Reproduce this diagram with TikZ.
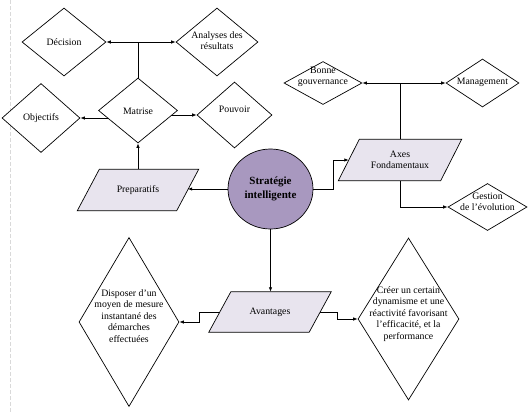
\documentclass[tikz,border=0pt]{standalone}
\usepackage{fontspec}
\setmainfont{Liberation Serif}
\usetikzlibrary{shapes.geometric,arrows.meta,backgrounds}
\pgfdeclarelayer{conn}
\pgfsetlayers{conn,background,main}
\definecolor{parafill}{HTML}{E8E4EE}
\definecolor{circfill}{HTML}{A898BF}
\newcommand\parashape[2]{%
  \draw[fill=parafill, line width=0.7pt] ([xshift=#2]#1.north west) -- ([xshift=#2]#1.north east) -- ([xshift=-#2]#1.south east) -- ([xshift=-#2]#1.south west) -- cycle;}
\begin{document}
\begin{tikzpicture}[x=1pt,y=-1pt,
 dia/.style={diamond, draw, fill=white, inner sep=0pt, line width=0.7pt},
 txt/.style={align=center, font=\fontsize{9.8}{11.5}\selectfont, inner sep=0pt},
 arr/.style={line width=0.8pt, -{Latex[length=4.5pt,width=3.5pt]}},
 ln/.style={line width=0.8pt},
 parbox/.style={minimum width=#1, minimum height=41, inner sep=0pt},
]
\useasboundingbox (0,0) rectangle (530,413);
\draw[gray!30, dash pattern=on 4pt off 2pt, line width=0.8pt] (10.5,0) -- (10.5,413);

% diamonds
\node[dia, minimum width=84, minimum height=68] (dec) at (64,42) {};
\node[txt] (dect) at (64,42) {Décision};
\node[dia, minimum width=82, minimum height=68] (ana) at (217,42) {};
\node[txt] (anat) at (217,40.5) {Analyses des\\résultats};
\node[dia, minimum width=79, minimum height=65] (mat) at (138,110.5) {};
\node[txt] (matt) at (138,111) {Matrise};
\node[dia, minimum width=78, minimum height=69] (obj) at (41,118) {};
\node[txt] (objt) at (41,118) {Objectifs};
\node[dia, minimum width=75, minimum height=66] (pou) at (234.5,115) {};
\node[txt] (pout) at (234.5,109) {Pouvoir};
\node[dia, minimum width=100, minimum height=169] (dis) at (129,322) {};
\node[txt] (dist) at (129,316) {Disposer d’un\\moyen de mesure\\instantané des\\démarches\\effectuées};
\node[dia, minimum width=101, minimum height=162] (cre) at (408.5,319) {};
\node[txt] (cret) at (408.5,314) {Créer un certain\\dynamisme et une\\réactivité favorisant\\l’efficacité, et la\\performance};
\node[dia, minimum width=78, minimum height=43] (bon) at (323,83) {};
\node[txt] (bont) at (323,77) {Bonne\\gouvernance};
\node[dia, minimum width=73, minimum height=48] (man) at (482.5,83) {};
\node[txt] (mant) at (482.5,82) {Management};
\node[dia, minimum width=79, minimum height=47] (ges) at (487.5,207) {};
\node[txt] (gest) at (487.5,202) {Gestion\\de l’évolution};

% parallelograms
\node[txt, parbox=99] (prep) at (138,190) {Preparatifs};
\node[txt, parbox=100, minimum height=40] (ava) at (270,312) {Avantages};
\node[txt, parbox=102] (axe) at (400,160) {Axes\\Fondamentaux};
\begin{pgfonlayer}{background}
\parashape{prep}{11}
\parashape{ava}{11}
\parashape{axe}{10.5}
\end{pgfonlayer}

% centre
\node[ellipse, draw, fill=circfill, line width=0.7pt, minimum width=85, minimum height=80, inner sep=0pt, align=center, font=\bfseries\fontsize{11}{13.3}\selectfont] (str) at (270.5,189) {Stratégie\\intelligente};

\begin{pgfonlayer}{conn}
\draw[arr] (str.west) -- (str.west -| prep.east);
\draw[arr] (prep.north) -- (mat.south);
\draw[arr] (mat.center |- obj.east) -- (obj.east);
\draw[arr] (mat.center |- pou.west) -- (pou.west);
\coordinate (j1) at (mat.north |- dec.east);
\draw[ln] (mat.north) -- (j1);
\draw[arr] (j1) -- (dec.east);
\draw[arr] (j1) -- (ana.west);
\draw[arr] (str.south) -- (str.south |- ava.north);
\draw[arr] (ava.west) -- ++(-20,0) |- (dis.east);
\draw[arr] (ava.east) -- ++(17,0) |- (cre.west);
\draw[arr] (str.east) -- ++(20,0) |- (axe.west);
\coordinate (j2) at (axe.north |- man.west);
\draw[ln] (axe.north) -- (j2);
\draw[arr] (j2) -- (bon.east);
\draw[arr] (j2) -- (man.west);
\draw[arr] (axe.south) |- (ges.west);
\end{pgfonlayer}
\end{tikzpicture}
\end{document}
